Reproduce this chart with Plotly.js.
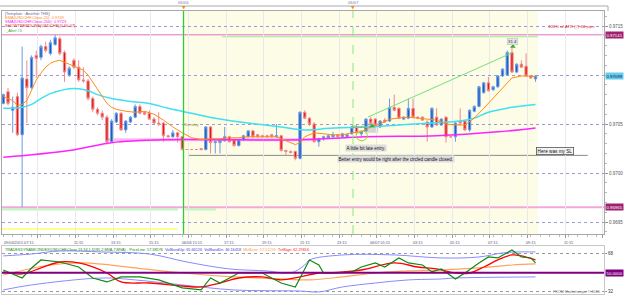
<!DOCTYPE html>
<html><head><meta charset="utf-8">
<script src="https://cdn.plot.ly/plotly-3.0.1.min.js"></script>
<style>html,body{margin:0;padding:0;background:#fff;overflow:hidden}#chart{width:625px;height:296px}</style>
</head><body><div id="chart"></div>
<script>
// ---------------- DATA (USDCHF M15) ----------------
const barOpen = [0.97071,0.97083,0.97064,0.97078,0.97039,0.97096,0.97087,0.97120,0.97118,0.97129,
0.97122,0.97131,0.97137,0.97123,0.97100,0.97115,0.97108,0.97095,0.97094,0.97076,
0.97065,0.97061,0.97057,0.97032,0.97052,0.97061,0.97044,0.97052,0.97057,0.97068,
0.97062,0.97061,0.97055,0.97051,0.97051,0.97038,0.97037,0.97041,0.97037,0.97024,
0.97024,0.97024,0.97025,0.97024,0.97047,0.97031,0.97031,0.97033,0.97037,0.97034,
0.97028,0.97034,0.97037,0.97043,0.97039,0.97038,0.97038,0.97039,0.97037,0.97038,
0.97023,0.97022,0.97022,0.97015,0.97062,0.97056,0.97050,0.97032,0.97035,0.97036,
0.97037,0.97039,0.97037,0.97037,0.97040,0.97047,0.97040,0.97043,0.97055,0.97055,
0.97047,0.97054,0.97053,0.97067,0.97066,0.97055,0.97056,0.97066,0.97057,0.97057,
0.97052,0.97047,0.97057,0.97049,0.97057,0.97037,0.97037,0.97053,0.97053,0.97044,
0.97063,0.97068,0.97082,0.97092,0.97085,0.97088,0.97099,0.97100,0.97123,0.97103,
0.97111,0.97109,0.97099,0.97096];
const barHigh = [0.97081,0.97087,0.97078,0.97082,0.97129,0.97115,0.97120,0.97125,0.97131,0.97134,
0.97136,0.97141,0.97139,0.97125,0.97109,0.97117,0.97115,0.97108,0.97096,0.97078,
0.97067,0.97064,0.97059,0.97055,0.97062,0.97062,0.97054,0.97058,0.97070,0.97070,
0.97063,0.97064,0.97057,0.97062,0.97052,0.97039,0.97044,0.97042,0.97038,0.97024,
0.97024,0.97024,0.97025,0.97048,0.97048,0.97033,0.97034,0.97047,0.97038,0.97035,
0.97035,0.97039,0.97044,0.97044,0.97040,0.97039,0.97039,0.97040,0.97050,0.97039,
0.97024,0.97023,0.97023,0.97063,0.97064,0.97057,0.97052,0.97036,0.97038,0.97039,
0.97042,0.97040,0.97041,0.97040,0.97048,0.97049,0.97043,0.97056,0.97057,0.97056,
0.97054,0.97056,0.97076,0.97080,0.97067,0.97058,0.97076,0.97076,0.97058,0.97058,
0.97054,0.97067,0.97066,0.97056,0.97058,0.97038,0.97052,0.97066,0.97054,0.97065,
0.97069,0.97089,0.97093,0.97098,0.97089,0.97100,0.97107,0.97125,0.97128,0.97112,
0.97115,0.97122,0.97100,0.97100];
const barLow = [0.97070,0.97069,0.97041,0.97038,0.96965,0.97051,0.97086,0.97097,0.97115,0.97123,
0.97120,0.97130,0.97120,0.97093,0.97098,0.97106,0.97093,0.97092,0.97074,0.97062,
0.97059,0.97054,0.97029,0.97031,0.97051,0.97043,0.97041,0.97051,0.97056,0.97060,
0.97059,0.97054,0.97050,0.97048,0.97032,0.97036,0.97036,0.97031,0.97023,0.97024,
0.97024,0.97024,0.97023,0.97023,0.97020,0.97020,0.97020,0.97032,0.97031,0.97027,
0.97027,0.97033,0.97036,0.97036,0.97036,0.97036,0.97036,0.97036,0.97036,0.97022,
0.97018,0.97020,0.97013,0.97014,0.97055,0.97048,0.97031,0.97027,0.97033,0.97035,
0.97036,0.97036,0.97036,0.97036,0.97039,0.97040,0.97037,0.97042,0.97050,0.97048,
0.97046,0.97051,0.97052,0.97063,0.97055,0.97054,0.97055,0.97056,0.97055,0.97053,
0.97032,0.97046,0.97048,0.97048,0.97031,0.97036,0.97032,0.97050,0.97043,0.97042,
0.97062,0.97067,0.97081,0.97083,0.97084,0.97087,0.97098,0.97099,0.97102,0.97102,
0.97107,0.97098,0.97096,0.97093];
const barClose = [0.97080,0.97071,0.97067,0.97039,0.97097,0.97087,0.97118,0.97117,0.97129,0.97125,
0.97133,0.97138,0.97122,0.97103,0.97107,0.97108,0.97095,0.97094,0.97076,0.97065,
0.97061,0.97057,0.97032,0.97053,0.97061,0.97044,0.97053,0.97057,0.97068,0.97061,
0.97060,0.97055,0.97051,0.97050,0.97038,0.97037,0.97041,0.97037,0.97024,0.97024,
0.97024,0.97024,0.97024,0.97047,0.97031,0.97032,0.97033,0.97037,0.97032,0.97028,
0.97034,0.97038,0.97043,0.97037,0.97037,0.97037,0.97037,0.97037,0.97038,0.97023,
0.97022,0.97021,0.97015,0.97062,0.97056,0.97050,0.97032,0.97035,0.97037,0.97038,
0.97039,0.97037,0.97040,0.97039,0.97047,0.97041,0.97042,0.97055,0.97051,0.97049,
0.97053,0.97052,0.97067,0.97064,0.97056,0.97057,0.97066,0.97057,0.97056,0.97054,
0.97047,0.97066,0.97049,0.97055,0.97037,0.97037,0.97051,0.97051,0.97044,0.97064,
0.97068,0.97088,0.97092,0.97084,0.97088,0.97099,0.97106,0.97123,0.97103,0.97111,
0.97108,0.97099,0.97097,0.97099];

const emaBars = [0,2,3,4,5,6,7,8,9,10,11,12,13,15,17,18,19,20,21,22,23,24,26,28,30,32,34,36,38,40,42,44,46,48,50,52,56,58,60,62,63,64,66,68,70,72,74,76,78,80,82,84,86,88,90,92,94,96,98,100,102,104,106,108,110,112,113];
const emaValues = [0.97078,0.97074,0.97069,0.97070,0.97074,0.97085,0.97095,0.97102,0.97108,0.97112,0.97114,0.97115,0.97113,0.97109,0.97105,0.97100,0.97093,0.97085,0.97078,0.97071,0.97067,0.97065,0.97063,0.97062,0.97063,0.97060,0.97054,0.97047,0.97041,0.97036,0.97034,0.97035,0.97035,0.97036,0.97036,0.97037,0.97037,0.97037,0.97033,0.97029,0.97031,0.97037,0.97041,0.97040,0.97039,0.97039,0.97041,0.97042,0.97047,0.97050,0.97055,0.97056,0.97057,0.97056,0.97055,0.97054,0.97050,0.97049,0.97049,0.97056,0.97066,0.97076,0.97087,0.97097,0.97099,0.97099,0.97098];
const cyanBars = [0,4,6,8,10,12,14,16,18,20,23,27,31,35,40,45,52,59,64,70,77,84,91,97,100,103,108,113];
const cyanValues = [0.97066,0.97067,0.97070,0.97076,0.97081,0.97084,0.97086,0.97086,0.97084,0.97080,0.97076,0.97073,0.97071,0.97066,0.97061,0.97056,0.97051,0.97047,0.97044,0.97046,0.97047,0.97049,0.97051,0.97053,0.97056,0.97062,0.97067,0.97070];
const smaBars = [0,14,23,35,45,63,77,92,105,113];
const smaValues = [0.97016,0.97023,0.97031,0.97034,0.97034,0.97034,0.97037,0.97038,0.97042,0.97046];
const trendBars = [77.4,108.2];
const trendValues = [0.97057,0.97123];
const entryBars = [78.3,108.2];
const entryValues = [0.97048,0.97129];

const atrLevel = 0.97150, pinkUpperLevel = 0.97141, pinkLowerLevel = 0.96965;
const greenBandLevel = 0.96963, yellowLevel = 0.96943, targetLevel = 0.97139;
const slLevel = 0.97018, supportLevel = 0.97034, lastPrice = 0.97099;
const priceTicks = [0.9695,0.9700,0.9705,0.9710,0.9715];
const priceTickText = ['0.9695','0.9700','0.9705','','0.9715'];
const daySepBars = [38.26,74.25];
const dayLabels = ['06/06','06/07'];
const timeTickBars = [-0.68,7.32,15.32,23.32,31.32,39.32,47.32,55.32,63.32,71.32,79.32,87.32,95.32,103.32,111.32,119.32,127.32];
const timeLabelBars = [-0.2,16,24,32,40,48,56,64,72,80,88,96,104,112,120];
const timeLabels = ['09/04/2015 07:15','11:15','13:15','15:15','06/06 15:15','17:15','19:15','21:15','23:15','06/07 01:15','03:15','05:15','07:15','09:15','11:15'];

// Traders Dynamic Index
const tdiGreenBars = [0,4,6,8,12,16,19,22,25,29,33,38,42,44,46,50,55,59,62,65,67,68,71,74,76,79,81,84,86,89,91,93,96,98,101,103,105,108,110,112,113];
const tdiGreen = [52.5,45.0,54.4,61.9,60.0,55.3,45.0,41.3,46.0,46.0,43.2,35.7,33.8,45.0,40.3,49.7,49.7,40.3,36.6,61.9,57.2,49.7,49.7,50.7,55.3,59.1,55.3,63.8,59.1,57.2,50.7,53.5,44.1,49.7,59.1,64.7,63.8,71.3,64.7,63.8,59.1];
const tdiRedBars = [0,4,8,12,16,22,25,31,38,42,46,50,55,59,63,67,69,76,83,88,92,96,99,102,105,108,110,113];
const tdiRed = [50.7,48.8,54.4,60.0,59.1,49.7,41.3,40.3,37.5,36.6,40.3,45.0,46.0,43.2,46.0,49.7,49.7,52.5,59.1,55.3,53.5,49.7,49.7,55.3,61.9,66.6,65.7,61.9];
const tdiBaseBars = [0,10,17,28,38,49,59,65,72,79,86,93,101,108,113];
const tdiBase = [47.8,57.2,59.1,54.4,49.7,46.0,44.1,43.2,46.0,49.7,51.6,52.5,54.4,57.2,58.2];
const tdiUpBars = [0,6,12,21,31,39,48,56,61,64,65,72,83,93,101,106,109,113];
const tdiUp = [65.7,67.5,70.3,69.4,67.5,60.0,53.5,51.6,49.7,57.2,61.9,66.6,66.6,63.8,64.7,68.5,69.4,69.4];
const tdiDnBars = [0,6,21,28,38,49,63,67,72,79,86,93,96,113];
const tdiDn = [33.8,38.5,45.0,43.2,38.5,33.8,32.8,31.9,36.6,40.3,43.2,44.1,45.0,46.0];
const tdiLevels = [32,50,68];

// ---------------- LAYOUT HELPERS ----------------
const W = 625, H = 296, M = {l:2, r:21, t:11, b:2};
const PW = W - M.l - M.r, PH = H - M.t - M.b;
const pxX = px => (px - M.l) / PW;
const pxY = py => (H - M.b - py) / PH;
const FONT = 'Liberation Sans, Arial, sans-serif';
const bars = barOpen.map((_, i) => i);

const traces = [
  {type:'candlestick', x:bars, open:barOpen, high:barHigh, low:barLow, close:barClose,
   xaxis:'x', yaxis:'y', whiskerwidth:0, hoverinfo:'skip',
   increasing:{line:{color:'#6c9be0', width:1}, fillcolor:'#1a5cc4'},
   decreasing:{line:{color:'#f08a8a', width:1}, fillcolor:'#e01818'}},
  {type:'scatter', mode:'lines', x:smaBars, y:smaValues, xaxis:'x', yaxis:'y', line:{color:'#ff22ff', width:1.5, shape:'spline'}, hoverinfo:'skip'},
  {type:'scatter', mode:'lines', x:cyanBars, y:cyanValues, xaxis:'x', yaxis:'y', line:{color:'#3ee0f2', width:1.5, shape:'spline'}, hoverinfo:'skip'},
  {type:'scatter', mode:'lines', x:emaBars, y:emaValues, xaxis:'x', yaxis:'y', line:{color:'#ff8c1a', width:1}, hoverinfo:'skip'},
  {type:'scatter', mode:'lines', x:trendBars, y:trendValues, xaxis:'x', yaxis:'y', line:{color:'#77e077', width:1}, hoverinfo:'skip'},
  {type:'scatter', mode:'markers', x:entryBars, y:entryValues, xaxis:'x', yaxis:'y', marker:{symbol:'triangle-up', size:5, color:'#3aa83a'}, hoverinfo:'skip'},
  {type:'scatter', mode:'lines', x:tdiUpBars, y:tdiUp, xaxis:'x2', yaxis:'y2', line:{color:'#8a8aff', width:1, shape:'spline'}, hoverinfo:'skip'},
  {type:'scatter', mode:'lines', x:tdiDnBars, y:tdiDn, xaxis:'x2', yaxis:'y2', line:{color:'#8a8aff', width:1, shape:'spline'}, hoverinfo:'skip'},
  {type:'scatter', mode:'lines', x:tdiBaseBars, y:tdiBase, xaxis:'x2', yaxis:'y2', line:{color:'#ffa35c', width:1.2, shape:'spline'}, hoverinfo:'skip'},
  {type:'scatter', mode:'lines', x:tdiRedBars, y:tdiRed, xaxis:'x2', yaxis:'y2', line:{color:'#ff0000', width:1.3, shape:'spline'}, hoverinfo:'skip'},
  {type:'scatter', mode:'lines', x:tdiGreenBars, y:tdiGreen, xaxis:'x2', yaxis:'y2', line:{color:'#118811', width:1.2}, hoverinfo:'skip'}
];

const hseg = (x0, x1, y, color, width, dash) => ({type:'line', xref:'x', yref:'y', x0, x1, y0:y, y1:y, line:{color, width, dash:dash||'solid'}, layer:'below'});
const shapes = [
  {type:'rect', xref:'x', yref:'y domain', x0:daySepBars[0], x1:113.5, y0:0, y1:1, fillcolor:'#fcfce7', line:{width:0}, layer:'below'},
  {type:'line', xref:'x domain', yref:'y', x0:0, x1:1, y0:pinkUpperLevel, y1:pinkUpperLevel, line:{color:'#e070c0', width:1}, layer:'below'},
  {type:'line', xref:'x domain', yref:'y', x0:0, x1:1, y0:pinkLowerLevel, y1:pinkLowerLevel, line:{color:'#f4a8da', width:2}, layer:'below'},
  hseg(-0.3, 37.1, greenBandLevel, '#c8f2c8', 2.5),
  hseg(38.6, 45.2, greenBandLevel, '#c8f2c8', 2.5),
  hseg(-0.3, 37.1, yellowLevel, '#ffff8a', 2),
  hseg(46.4, 113.5, targetLevel, '#95ea95', 1),
  hseg(39.2, 124.1, slLevel, '#8a8a8a', 1),
  hseg(22, 67, supportLevel, 'rgba(255,160,235,0.7)', 3),
  {type:'line', xref:'x', yref:'y domain', x0:daySepBars[0], x1:daySepBars[0], y0:0, y1:1, line:{color:'#33cc33', width:1.3}},
  {type:'line', xref:'x', yref:'y domain', x0:daySepBars[1], x1:daySepBars[1], y0:0, y1:1, line:{color:'#88e888', width:1, dash:'dash'}},
  {type:'rect', xref:'x', yref:'y', x0:77.0, x1:79.6, y0:0.97041, y1:0.97051, fillcolor:'#d6d6d6', line:{width:0}, layer:'below'},
  {type:'circle', xref:'x', yref:'y', x0:74.9, x1:77.3, y0:0.97033, y1:0.97043, line:{color:'#9acd32', width:1}},
  {type:'line', xref:'x2 domain', yref:'y2', x0:0, x1:1, y0:tdiLevels[1], y1:tdiLevels[1], line:{color:'#800080', width:2}},
  {type:'line', xref:'paper', yref:'paper', x0:pxX(0), x1:pxX(608), y0:pxY(6), y1:pxY(6), line:{color:'#aaaaaa', width:1}},
  {type:'line', xref:'paper', yref:'paper', x0:pxX(608), x1:pxX(608), y0:pxY(6), y1:pxY(11), line:{color:'#aaaaaa', width:1}}
];

const ann = [];
const txt = (o) => ann.push(Object.assign({showarrow:false, font:{family:FONT, size:4.5, color:'#333'}}, o));
const legendLines = [['[Template : Another THS]','#6a6a9a'],['EMA(USDCHF,Close,20): 0.9749','#ff8c1a'],['SMA(USDCHF,Close,200): 0.9723','#ee22ee'],['SHOWTRENDLINE(USDCHF)(0,60,07)','#e02020'],['_Alert #1','#22aa22']];
const legendPy = [13, 17.2, 21.4, 25.6, 30];
legendLines.forEach((l, i) => txt({xref:'paper', yref:'paper', x:pxX(3), y:pxY(legendPy[i]), xanchor:'left', yanchor:'middle', text:l[0], font:{family:FONT, size:4, color:l[1]}}));
timeLabels.forEach((t, i) => txt({xref:'x', yref:'paper', x:timeLabelBars[i], y:pxY(242.5), xanchor:i===0?'left':'center', yanchor:'middle', text:t, font:{family:FONT, size:3.8, color:'#555577'}}));
dayLabels.forEach((t, i) => {
  txt({xref:'x', yref:'paper', x:daySepBars[i], y:pxY(2.5), xanchor:'center', yanchor:'middle', text:t, font:{family:FONT, size:4.2, color:'#7777aa'}});
  txt({xref:'x', yref:'paper', x:daySepBars[i], y:pxY(7.5), xanchor:'center', yanchor:'middle', text:'▼', font:{family:'DejaVu Sans', size:4.5, color:'#ff8800'}});
});
const box = (y, t, bg, fg) => txt({xref:'paper', yref:'y', x:1, xshift:1, y, xanchor:'left', yanchor:'middle', text:t, bgcolor:bg, borderpad:0.5, font:{family:FONT, size:4.3, color:fg}});
box(pinkUpperLevel, pinkUpperLevel.toFixed(5), '#a0206e', '#ffffff');
box(lastPrice, lastPrice.toFixed(5), '#66ccee', '#002244');
box(pinkLowerLevel, pinkLowerLevel.toFixed(5), '#a0206e', '#ffffff');
txt({xref:'paper', yref:'y2', x:1, xshift:1, y:tdiLevels[1], xanchor:'left', yanchor:'middle', text:'50.0000', bgcolor:'#800080', borderpad:0.5, font:{family:FONT, size:4.3, color:'#ffffff'}});
txt({xref:'x', yref:'y', x:120.7, y:atrLevel, text:'<i>100% of ATR (7) 56 pips</i>', font:{family:FONT, size:4.3, color:'#ee2222'}});
txt({xref:'x', yref:'y', x:108.2, y:0.97134, text:'31.4', bgcolor:'#e6e6e6', bordercolor:'#b8b8b8', borderwidth:0.5, borderpad:0.5, font:{family:FONT, size:4.3, color:'#333'}});
txt({xref:'x', yref:'y', x:39.9, y:0.97050, text:'Sunday', font:{family:FONT, size:4.3, color:'#a0a040'}});
txt({xref:'x', yref:'y', x:75.7, y:0.97047, text:'Monday', font:{family:FONT, size:4.3, color:'#a0a040'}});
txt({xref:'x', yref:'y', x:77.0, y:0.970255, text:'A little bit late entry.', bgcolor:'#dedede', borderpad:0.5, font:{family:FONT, size:4.5, color:'#111'}});
txt({xref:'x', yref:'y', x:83.4, y:0.97014, text:'Better entry would be right after the circled candle closed.', bgcolor:'#dedede', borderpad:0.5, font:{family:FONT, size:4.5, color:'#111'}});
txt({xref:'x', yref:'y', x:117.1, y:0.97022, text:'Here was my SL', bgcolor:'#f2f2f2', bordercolor:'#555', borderwidth:0.8, borderpad:0.8, font:{family:FONT, size:4.7, color:'#111'}});
txt({xref:'paper', yref:'paper', x:pxX(3), y:pxY(249.5), xanchor:'left', yanchor:'middle',
  text:'<span style="color:#118811">TRADESDYNAMICINDEX(USDCHF,Close,13,34,1.6185,2,MVA,7,MVA) - PriceLine: 57.38576</span>  <span style="color:#4444dd">VolBandUp: 65.66126</span>  <span style="color:#4444dd">VolBandDn: 46.16458</span>  <span style="color:#ff9a50">MktBase: 57.51259</span>  <span style="color:#ff2020">TrdSign: 62.29816</span>',
  font:{family:FONT, size:3.8, color:'#118811'}});
txt({xref:'paper', yref:'paper', x:pxX(602), y:pxY(291.5), xanchor:'right', yanchor:'middle', text:'FXCM Marketscope © 2015', font:{family:FONT, size:3.8, color:'#777'}});

const layout = {
  width:W, height:H, margin:M, paper_bgcolor:'#ffffff', plot_bgcolor:'#ffffff', showlegend:false,
  xaxis:{domain:[0,1], anchor:'y', range:[-0.276,127.54], rangeslider:{visible:false}, showgrid:true, gridcolor:'#e9e9e9', gridwidth:1,
         tickvals:timeTickBars, showticklabels:false, ticks:'outside', ticklen:3, tickcolor:'#999',
         minor:{dtick:2, ticks:'outside', ticklen:1.5, tickcolor:'#bbb', showgrid:false},
         showline:true, mirror:true, linecolor:'#a8a8a8', zeroline:false, fixedrange:true},
  yaxis:{domain:[pxY(234),1], anchor:'x', side:'right', range:[0.969378,0.971653], tickvals:priceTicks, ticktext:priceTickText,
         showgrid:true, gridcolor:'#9a9ad6', griddash:'dot', gridwidth:1, ticks:'outside', ticklen:3, tickcolor:'#999',
         minor:{dtick:0.0001, ticks:'outside', ticklen:1.5, tickcolor:'#bbb', showgrid:false},
         tickfont:{family:FONT, size:4.5, color:'#555'}, showline:true, mirror:true, linecolor:'#a8a8a8', zeroline:false},
  xaxis2:{domain:[0,1], anchor:'y2', matches:'x', showgrid:false, showticklabels:false, ticks:'', showline:true, mirror:true, linecolor:'#c8c8c8', zeroline:false},
  yaxis2:{domain:[0,pxY(246)], anchor:'x2', side:'right', range:[30.0,75.0], tickvals:[tdiLevels[0],tdiLevels[2]],
          showgrid:true, gridcolor:'#999999', griddash:'dot', ticks:'outside', ticklen:2, tickcolor:'#999',
          tickfont:{family:FONT, size:4.5, color:'#333'}, showline:true, mirror:true, linecolor:'#c8c8c8', zeroline:false},
  shapes, annotations:ann
};
Plotly.newPlot('chart', traces, layout, {staticPlot:true, displayModeBar:false});
</script></body></html>
